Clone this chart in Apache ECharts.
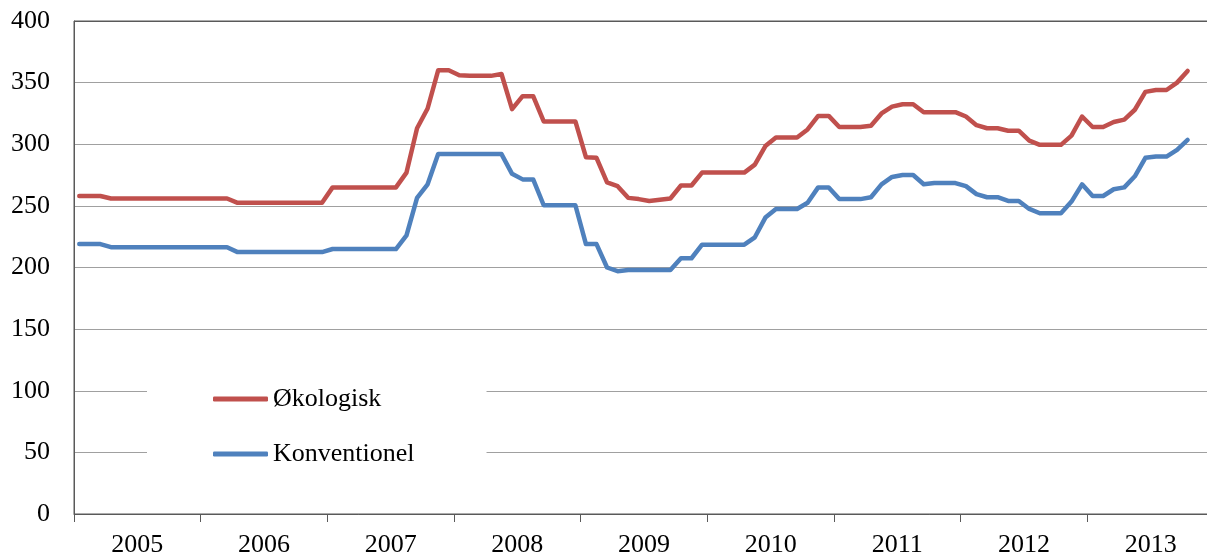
<!DOCTYPE html>
<html>
<head>
<meta charset="utf-8">
<script src="https://cdn.jsdelivr.net/npm/echarts@6/dist/echarts.min.js"></script>
<style>
html,body{margin:0;padding:0;background:#fff;overflow:hidden;width:1207px;height:558px;}
#c{width:1214px;height:558px;}
</style>
</head>
<body>
<div id="c"></div>
<script>
// Year labels (one band of 12 months each)
var years = ['2005','2006','2007','2008','2009','2010','2011','2012','2013'];
// Series names
var seriesNames = ['Økologisk','Konventionel'];
// Monthly values, Jan 2005 - Oct 2013
var okologisk = [
  258,258,258,
  256,256,256,256,256,256,256,256,256,256,256,256,
  252.5,252.5,252.5,252.5,252.5,252.5,252.5,252.5,252.5,
  265,265,265,265,265,265,265,
  277,313,329,
  360,360,356,355.5,355.5,355.5,357,
  328.5,339,339,
  318.5,318.5,318.5,318.5,
  289.5,289,269,266,256.5,255.5,254,255,256,266.5,266.5,
  277,277,277,277,277,
  283.5,298.5,
  305.5,305.5,305.5,
  312,323,323,314,314,314,315,325,330.5,332.5,332.5,326,326,326,326,
  322.5,315.5,313,313,311,311,303,299.5,299.5,299.5,307,322.5,314,314,
  318,320,328,342.5,344,344,350,359.5
];
var konventionel = [
  219,219,219,
  216.5,216.5,216.5,216.5,216.5,216.5,216.5,216.5,216.5,216.5,216.5,216.5,
  212.5,212.5,212.5,212.5,212.5,212.5,212.5,212.5,212.5,
  215,215,215,215,215,215,215,
  226,256.5,267.5,
  292,292,292,292,292,292,292,
  276,271.5,271.5,
  250.5,250.5,250.5,250.5,
  219,219,200,197,198,198,198,198,198,207.5,207.5,
  218.5,218.5,218.5,218.5,218.5,
  224.5,240.5,
  247.5,247.5,247.5,
  252.5,265,265,255.5,255.5,255.5,257,267.5,273.5,275,275,267.5,268.5,268.5,268.5,
  266,259.5,257,257,254,254,247.5,244,244,244,253.5,267.5,258,258,
  263.5,265,274,289,290,290,295.5,303.5
];
// Month categories built from the year list (12 per year)
var months = [];
years.forEach(function(y){ for (var m = 1; m <= 12; m++) months.push(y + '-' + (m < 10 ? '0' + m : m)); });

var serif = 'Liberation Serif';
var axisColor = '#595959';
var gridColor = '#a0a0a0';
var chart = echarts.init(document.getElementById('c'), null, {renderer:'canvas'});
chart.setOption({
  animation: false,
  backgroundColor: '#ffffff',
  grid: {left: 74, right: 0, top: 21, bottom: 38, show: true, borderColor: axisColor, borderWidth: 1, backgroundColor: 'transparent'},
  legend: {
    data: seriesNames,
    orient: 'vertical',
    left: 147,
    top: 374,
    padding: [12, 72, 12, 66],
    itemGap: 29,
    itemWidth: 55,
    itemHeight: 5,
    icon: 'roundRect',
    backgroundColor: '#ffffff',
    textStyle: {fontFamily: serif, fontSize: 26, color: '#000'}
  },
  xAxis: [
    {type: 'category', data: months, boundaryGap: true, show: false, position: 'bottom'},
    {type: 'category', data: years, boundaryGap: true, position: 'bottom',
     axisLine: {show: true, lineStyle: {color: axisColor, width: 1}},
     axisTick: {show: true, length: 8, lineStyle: {color: axisColor}},
     axisLabel: {fontFamily: serif, fontSize: 26, color: '#000', margin: 18},
     splitLine: {show: false}}
  ],
  yAxis: {
    type: 'value', min: 0, max: 400, interval: 50,
    axisLine: {show: true, lineStyle: {color: axisColor, width: 1}},
    axisTick: {show: false},
    axisLabel: {fontFamily: serif, fontSize: 26, color: '#000', margin: 24},
    splitLine: {show: true, lineStyle: {color: [gridColor, gridColor, gridColor, gridColor, gridColor, gridColor, gridColor, gridColor, axisColor], width: 1.2}}
  },
  series: [
    {name: seriesNames[0], type: 'line', xAxisIndex: 0, data: okologisk, symbol: 'none',
     lineStyle: {color: '#C0504D', width: 4.5, cap: 'round', join: 'round'}, itemStyle: {color: '#C0504D'}},
    {name: seriesNames[1], type: 'line', xAxisIndex: 0, data: konventionel, symbol: 'none',
     lineStyle: {color: '#4F81BD', width: 4.5, cap: 'round', join: 'round'}, itemStyle: {color: '#4F81BD'}}
  ]
});
</script>
</body>
</html>
